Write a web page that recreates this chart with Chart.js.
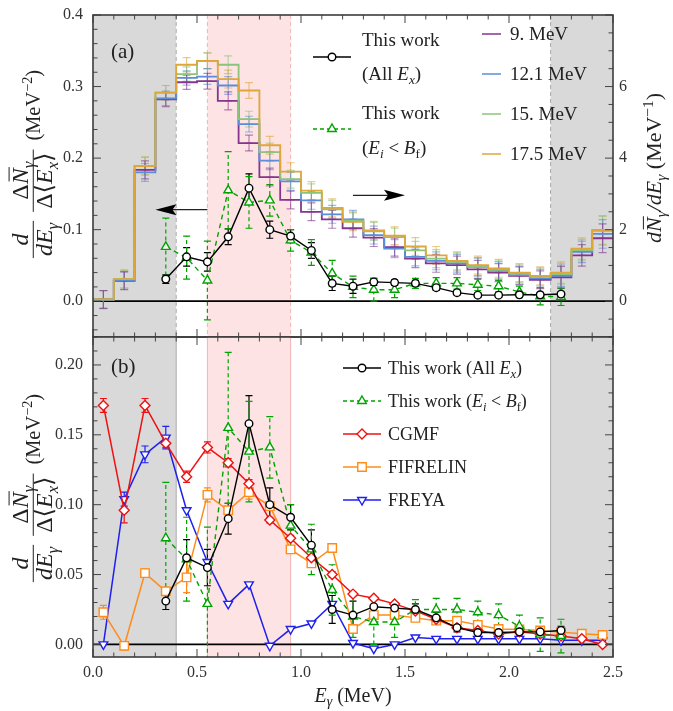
<!DOCTYPE html>
<html lang="en">
<head>
<meta charset="UTF-8">
<title>Gamma spectra</title>
<script src="https://cdn.jsdelivr.net/npm/chart.js"></script>
<style>
  body { margin: 0; background: #fff; }
  #wrap { position: relative; width: 673px; height: 711px; }
  canvas { position: absolute; left: 0; }
  #top { top: 0; }
  #bot { top: 334px; }
</style>
</head>
<body>
<div id="wrap">
  <canvas id="top" width="673" height="340"></canvas>
  <canvas id="bot" width="673" height="377"></canvas>
</div>
<script>
// ---- data ----
const binEdges = [0, 0.1, 0.2, 0.3, 0.4, 0.5, 0.6, 0.7, 0.8, 0.9, 1.0, 1.1, 1.2, 1.3, 1.4, 1.5, 1.6, 1.7, 1.8, 1.9, 2.0, 2.1, 2.2, 2.3, 2.4, 2.5];
const binCenters = [0.05, 0.15, 0.25, 0.35, 0.45, 0.55, 0.65, 0.75, 0.85, 0.95, 1.05, 1.15, 1.25, 1.35, 1.45, 1.55, 1.65, 1.75, 1.85, 1.95, 2.05, 2.15, 2.25, 2.35, 2.45];

// dN/dE (MeV^-1), right axis of panel (a)
const hist9   = [0.05, 0.57, 3.67, 5.64, 6.12, 6.15, 5.60, 4.42, 3.47, 2.83, 2.50, 2.29, 2.04, 1.78, 1.51, 1.19, 1.06, 1.01, 0.89, 0.80, 0.71, 0.60, 0.67, 1.28, 1.76];
const hist121 = [0.04, 0.58, 3.60, 5.67, 6.24, 6.28, 6.03, 4.95, 3.93, 3.35, 2.82, 2.43, 2.29, 1.85, 1.47, 1.24, 1.13, 1.06, 0.96, 0.85, 0.73, 0.64, 0.71, 1.38, 1.88];
const hist15  = [0.05, 0.62, 3.78, 5.83, 6.35, 6.72, 6.61, 5.09, 4.17, 3.41, 3.03, 2.57, 2.25, 1.95, 1.79, 1.42, 1.19, 1.10, 0.96, 0.88, 0.77, 0.68, 0.76, 1.43, 1.97];
const hist175 = [0.05, 0.62, 3.78, 5.83, 6.61, 6.72, 6.21, 5.89, 4.36, 3.62, 3.09, 2.61, 2.22, 1.98, 1.83, 1.53, 1.28, 1.13, 1.01, 0.92, 0.80, 0.71, 0.80, 1.47, 1.99];
const histErr = [0.25, 0.25, 0.25, 0.2, 0.2, 0.22, 0.25, 0.22, 0.25, 0.25, 0.25, 0.25, 0.25, 0.25, 0.25, 0.25, 0.25, 0.25, 0.25, 0.25, 0.25, 0.25, 0.3, 0.3, 0.4];

// this work, d dN / dE dEx (MeV^-2)
const expE = [0.35, 0.45, 0.55, 0.65, 0.75, 0.85, 0.95, 1.05, 1.15, 1.25, 1.35, 1.45, 1.55, 1.65, 1.75, 1.85, 1.95, 2.05, 2.15, 2.25];
const allEx      = [0.031, 0.062, 0.055, 0.090, 0.158, 0.100, 0.091, 0.071, 0.025, 0.021, 0.027, 0.026, 0.025, 0.019, 0.012, 0.0085, 0.0085, 0.009, 0.009, 0.010];
const allExErr   = [0.006, 0.013, 0.013, 0.011, 0.020, 0.012, 0.009, 0.011, 0.010, 0.010, 0.005, 0.004, 0.004, 0.004, 0.003, 0.003, 0.003, 0.003, 0.003, 0.003];
const belowBf    = [0.076, 0.061, 0.029, 0.155, 0.138, 0.141, 0.085, 0.068, 0.039, 0.020, 0.016, 0.016, 0.025, 0.025, 0.025, 0.023, 0.021, 0.013, 0.007, 0.006];
const belowBfErr = [0.040, 0.030, 0.055, 0.054, 0.036, 0.022, 0.015, 0.018, 0.018, 0.015, 0.016, 0.011, 0.007, 0.008, 0.008, 0.008, 0.008, 0.008, 0.012, 0.012];

// models
const cgmf        = [0.171, 0.096, 0.171, 0.144, 0.120, 0.141, 0.130, 0.115, 0.089, 0.076, 0.062, 0.050, 0.036, 0.033, 0.029, 0.024, 0.018, 0.012, 0.010, 0.0075, 0.009, 0.0075, 0.006, 0.004, 0.000];
const cgmfErr     = [0.005, 0.009, 0.005, 0.003, 0.004, 0.004, 0.003, 0.003, 0.002, 0.002, 0.002, 0.002, 0.0015, 0.001, 0.001, 0.001, 0.001, 0.001, 0.001, 0.001, 0.001, 0.001, 0.001, 0.001, 0.001];
const fifrelin    = [0.023, -0.001, 0.051, 0.038, 0.048, 0.107, 0.096, 0.109, 0.099, 0.068, 0.058, 0.069, 0.011, 0.021, 0.021, 0.019, 0.017, 0.017, 0.014, 0.011, 0.0107, 0.010, 0.0088, 0.0076, 0.0067];
const fifrelinErr = [0.005, 0.003, 0.003, 0.003, 0.011, 0.005, 0.002, 0.005, 0.003, 0.002, 0.002, 0.002, 0.002, 0.001, 0.001, 0.001, 0.001, 0.001, 0.001, 0.001, 0.001, 0.001, 0.001, 0.001, 0.001];
const freya       = [0.000, 0.104, 0.136, 0.148, 0.096, 0.059, 0.029, 0.043, -0.001, 0.011, 0.015, 0.029, 0.001, -0.003, 0.000, 0.005, 0.004, 0.004, 0.004, 0.004, 0.004, 0.004, 0.003, 0.003, 0.003];
const freyaErr    = [0, 0.005, 0.006, 0.008, 0, 0, 0, 0, 0, 0, 0, 0, 0, 0, 0, 0, 0, 0, 0, 0, 0, 0, 0, 0, 0];

// ticks and bands
const xTicks = [0, 0.5, 1.0, 1.5, 2.0, 2.5];
const topLeftTicks = [0, 0.1, 0.2, 0.3, 0.4];
const topRightTicks = [0, 2, 4, 6];
const botLeftTicks = [0, 0.05, 0.10, 0.15, 0.20];
const grayBands = [[0, 0.4], [2.2, 2.5]];
const pinkBand = [0.55, 0.95];

const SERIF = '"Liberation Serif", "DejaVu Serif", serif';
const COL = {
  purple: '#86358f', blue: '#5b8ed6', green: '#8cc47c', gold: '#dfa63a',
  exp: '#00a400', cgmf: '#ee1111', fif: '#ff8c1a', freya: '#1f1ff0'
};

function font(sz, it) { return (it ? 'italic ' : '') + sz + 'px ' + SERIF; }

// rich text: runs of {t, i (italic), sub, sup, over (overline)}
function richWidth(ctx, runs, sz) {
  let w = 0;
  runs.forEach(r => {
    ctx.font = font((r.sub || r.sup) ? sz * 0.7 : sz, r.i);
    w += ctx.measureText(r.t).width;
  });
  return w;
}
function drawRich(ctx, runs, x, y, sz, align) {
  const w = richWidth(ctx, runs, sz);
  let cx = align === 'center' ? x - w / 2 : align === 'right' ? x - w : x;
  ctx.textAlign = 'left';
  ctx.textBaseline = 'alphabetic';
  runs.forEach(r => {
    const s = (r.sub || r.sup) ? sz * 0.7 : sz;
    ctx.font = font(s, r.i);
    const yy = y + (r.sub ? sz * 0.22 : r.sup ? -sz * 0.38 : 0);
    ctx.fillText(r.t, cx, yy);
    const pw = ctx.measureText(r.t).width;
    if (r.over) {
      ctx.beginPath();
      ctx.lineWidth = 1;
      ctx.moveTo(cx + s * 0.12, yy - s * 0.8);
      ctx.lineTo(cx + pw + s * 0.05, yy - s * 0.8);
      ctx.stroke();
    }
    cx += pw;
  });
  return w;
}

function marker(ctx, style, x, y, r, color, rot) {
  ctx.save();
  ctx.translate(x, y);
  if (rot) ctx.rotate(rot * Math.PI / 180);
  ctx.beginPath();
  if (style === 'circle') {
    ctx.arc(0, 0, r, 0, 2 * Math.PI);
  } else if (style === 'triangle') {
    for (let k = 0; k < 3; k++) {
      const a = k * 2 * Math.PI / 3;
      ctx.lineTo(r * Math.sin(a), -r * Math.cos(a));
    }
    ctx.closePath();
  } else if (style === 'rectRot') {
    ctx.moveTo(0, -r); ctx.lineTo(r, 0); ctx.lineTo(0, r); ctx.lineTo(-r, 0); ctx.closePath();
  } else {
    const s = r * Math.SQRT1_2;
    ctx.rect(-s, -s, 2 * s, 2 * s);
  }
  ctx.setLineDash([]);
  ctx.fillStyle = '#fff';
  ctx.fill();
  ctx.strokeStyle = color;
  ctx.lineWidth = 1.4;
  ctx.stroke();
  ctx.restore();
}

function legendRow(ctx, x1, x2, y, color, dash, style, r, rot) {
  ctx.save();
  ctx.strokeStyle = color;
  ctx.lineWidth = 1.5;
  ctx.setLineDash(dash || []);
  ctx.beginPath(); ctx.moveTo(x1, y); ctx.lineTo(x2, y); ctx.stroke();
  ctx.restore();
  if (style) marker(ctx, style, (x1 + x2) / 2, y, r, color, rot);
}

function arrow(ctx, x1, x2, y) {
  const dir = Math.sign(x2 - x1);
  ctx.save();
  ctx.strokeStyle = '#222';
  ctx.fillStyle = '#000';
  ctx.lineWidth = 1.2;
  ctx.beginPath(); ctx.moveTo(x1, y); ctx.lineTo(x2 - dir * 14, y); ctx.stroke();
  ctx.beginPath();
  ctx.moveTo(x2, y);
  ctx.lineTo(x2 - dir * 21, y - 5.5);
  ctx.lineTo(x2 - dir * 17, y);
  ctx.lineTo(x2 - dir * 21, y + 5.5);
  ctx.closePath();
  ctx.fill();
  ctx.restore();
}

function drawErrBars(chart) {
  const { ctx, chartArea: a, scales } = chart;
  ctx.save();
  ctx.beginPath();
  ctx.rect(a.left, a.top, a.right - a.left, a.bottom - a.top);
  ctx.clip();
  chart.data.datasets.forEach(ds => {
    const eb = ds.eb;
    if (!eb) return;
    const ys = scales[ds.yAxisID || 'y'];
    ctx.strokeStyle = eb.color;
    ctx.globalAlpha = eb.alpha || 1;
    ctx.lineWidth = 1.2;
    eb.x.forEach((xv, i) => {
      const e = eb.e[i];
      if (!e) return;
      const px = scales.x.getPixelForValue(xv);
      const p1 = ys.getPixelForValue(eb.y[i] - e);
      const p2 = ys.getPixelForValue(eb.y[i] + e);
      ctx.setLineDash(eb.dash || []);
      ctx.beginPath(); ctx.moveTo(px, p1); ctx.lineTo(px, p2); ctx.stroke();
      ctx.setLineDash([]);
      ctx.beginPath();
      ctx.moveTo(px - eb.cap, p1); ctx.lineTo(px + eb.cap, p1);
      ctx.moveTo(px - eb.cap, p2); ctx.lineTo(px + eb.cap, p2);
      if (eb.mid) {
        const pm = ys.getPixelForValue(eb.y[i]);
        ctx.moveTo(px - eb.cap, pm); ctx.lineTo(px + eb.cap, pm);
      }
      ctx.stroke();
    });
  });
  ctx.restore();
}

function drawBands(chart, solidEdges) {
  const { ctx, chartArea: a, scales } = chart;
  const xs = scales.x;
  ctx.save();
  ctx.fillStyle = '#d9d9d9';
  grayBands.forEach(([l, r]) => {
    const x1 = xs.getPixelForValue(l), x2 = xs.getPixelForValue(r);
    ctx.fillRect(x1, a.top, x2 - x1, a.bottom - a.top);
  });
  const p1 = xs.getPixelForValue(pinkBand[0]), p2 = xs.getPixelForValue(pinkBand[1]);
  ctx.fillStyle = '#fde3e3';
  ctx.fillRect(p1, a.top, p2 - p1, a.bottom - a.top);
  ctx.lineWidth = 1;
  ctx.setLineDash(solidEdges ? [] : [4, 3]);
  ctx.strokeStyle = '#ababab';
  [grayBands[0][1], grayBands[1][0]].forEach(v => {
    const px = xs.getPixelForValue(v);
    ctx.beginPath(); ctx.moveTo(px, a.top); ctx.lineTo(px, a.bottom); ctx.stroke();
  });
  ctx.strokeStyle = '#f3b5b5';
  [p1, p2].forEach(px => {
    ctx.beginPath(); ctx.moveTo(px, a.top); ctx.lineTo(px, a.bottom); ctx.stroke();
  });
  ctx.setLineDash([]);
  const y0 = scales.y.getPixelForValue(0);
  ctx.strokeStyle = '#000';
  ctx.lineWidth = 1.7;
  ctx.beginPath(); ctx.moveTo(a.left, y0); ctx.lineTo(a.right, y0); ctx.stroke();
  ctx.restore();
}

function tickRun(from, to, step) {
  const out = [];
  const n = Math.round((to - from) / step);
  for (let k = 0; k <= n; k++) out.push(from + k * step);
  return out;
}

function drawFrame(chart, rightScaleId, rightMinor, rightMajor) {
  const { ctx, chartArea: a, scales } = chart;
  const xs = scales.x, ys = scales.y;
  const near = (v, s) => Math.abs(v / s - Math.round(v / s)) < 1e-6;
  ctx.save();
  ctx.strokeStyle = '#444';
  ctx.lineWidth = 1;
  ctx.beginPath();
  tickRun(0, 2.5, 0.1).forEach(v => {
    const px = xs.getPixelForValue(v);
    const len = near(v, 0.5) ? 8 : 4.5;
    ctx.moveTo(px, a.top); ctx.lineTo(px, a.top + len);
    ctx.moveTo(px, a.bottom); ctx.lineTo(px, a.bottom - len);
  });
  const ly = ys.options.minorStep, lM = ys.options.majorStep;
  tickRun(Math.ceil(ys.min / ly) * ly, ys.max, ly).forEach(v => {
    const py = ys.getPixelForValue(v);
    const len = near(v, lM) ? 8 : 4.5;
    ctx.moveTo(a.left, py); ctx.lineTo(a.left + len, py);
    if (!rightScaleId) { ctx.moveTo(a.right, py); ctx.lineTo(a.right - len, py); }
  });
  if (rightScaleId) {
    const rs = scales[rightScaleId];
    tickRun(Math.ceil(rs.min / rightMinor) * rightMinor, rs.max, rightMinor).forEach(v => {
      const py = rs.getPixelForValue(v);
      const len = near(v, rightMajor) ? 8 : 4.5;
      ctx.moveTo(a.right, py); ctx.lineTo(a.right - len, py);
    });
  }
  ctx.stroke();
  ctx.strokeStyle = '#3c3c3c';
  ctx.lineWidth = 1.6;
  ctx.strokeRect(a.left, a.top, a.right - a.left, a.bottom - a.top);
  ctx.restore();
}

function leftTitle(ctx, cx, cy, sz) {
  const num1 = [{ t: 'd', i: 1 }];
  const den1 = [{ t: 'dE', i: 1 }, { t: 'γ', i: 1, sub: 1 }];
  const num2 = [{ t: 'Δ' }, { t: 'N', i: 1, over: 1 }, { t: 'γ', i: 1, sub: 1 }];
  const den2 = [{ t: 'Δ⟨' }, { t: 'E', i: 1 }, { t: 'x', i: 1, sub: 1 }, { t: '⟩' }];
  const unit = [{ t: '(MeV' }, { t: '−2', sup: 1 }, { t: ')' }];
  const usz = sz * 0.85;
  ctx.save();
  ctx.translate(cx, cy);
  ctx.rotate(-Math.PI / 2);
  ctx.fillStyle = '#222';
  ctx.strokeStyle = '#222';
  const f1 = Math.max(richWidth(ctx, num1, sz), richWidth(ctx, den1, sz)) + 4;
  const f2 = Math.max(richWidth(ctx, num2, sz), richWidth(ctx, den2, sz)) + 6;
  const wu = richWidth(ctx, unit, usz);
  const gap = 9;
  const total = f1 + gap + f2 + gap + wu;
  let x = -total / 2;
  const axis = -sz * 0.28;
  [[num1, den1, f1], [num2, den2, f2]].forEach(([n, d, w]) => {
    drawRich(ctx, n, x + w / 2, axis - 5, sz, 'center');
    drawRich(ctx, d, x + w / 2, axis + sz * 0.8, sz, 'center');
    ctx.beginPath();
    ctx.lineWidth = 1;
    ctx.moveTo(x, axis); ctx.lineTo(x + w, axis); ctx.stroke();
    x += w + gap;
  });
  drawRich(ctx, unit, x, axis + usz * 0.33, usz, 'left');
  ctx.restore();
}

function yAxis(min, max, ticks, fmt, pos, width, pad, minorStep, majorStep) {
  return {
    type: 'linear', position: pos, min: min, max: max,
    minorStep: minorStep, majorStep: majorStep,
    grid: { display: false, drawTicks: false },
    border: { display: false },
    afterBuildTicks: s => { s.ticks = ticks.map(v => ({ value: v })); },
    afterFit: s => { s.width = width; s.paddingTop = 0; s.paddingBottom = 0; },
    ticks: { autoSkip: false, callback: fmt, padding: pad, color: '#333', font: { family: SERIF, size: 16 } }
  };
}

function pts(xv, yv) { return xv.map((x, i) => ({ x: x, y: yv[i] })); }
function steps(vals) { return binEdges.map((x, i) => ({ x: x, y: vals[Math.min(i, vals.length - 1)] })); }

function expSets() {
  return [
    {
      label: 'This work (All Ex)', data: pts(expE, allEx), yAxisID: 'y',
      borderColor: '#000', borderWidth: 1.4, pointStyle: 'circle', pointRadius: 3.8,
      pointBorderColor: '#000', pointBackgroundColor: '#fff', pointBorderWidth: 1.4,
      eb: { x: expE, y: allEx, e: allExErr, color: '#000', cap: 3.5 }
    },
    {
      label: 'This work (Ei < Bf)', data: pts(expE, belowBf), yAxisID: 'y',
      borderColor: COL.exp, borderWidth: 1.4, borderDash: [5, 4], pointStyle: 'triangle', pointRadius: 5,
      pointBorderColor: COL.exp, pointBackgroundColor: '#fff', pointBorderWidth: 1.4,
      eb: { x: expE, y: belowBf, e: belowBfErr, color: COL.exp, cap: 3.5, dash: [4, 3] }
    }
  ];
}

function histSet(label, vals, color) {
  return {
    label: label, data: steps(vals), yAxisID: 'y2', stepped: true,
    borderColor: color, borderWidth: 1.8, pointRadius: 0,
    eb: { x: binCenters, y: vals, e: histErr, color: color, cap: 4, mid: true, alpha: 0.6 }
  };
}

// ---------- panel (a) ----------
const topPlugin = {
  id: 'panelA',
  beforeDatasetsDraw(chart) { drawBands(chart, false); drawErrBars(chart); },
  afterDraw(chart) {
    const { ctx, scales } = chart;
    drawFrame(chart, 'y2', 0.5, 2);
    ctx.save();
    ctx.fillStyle = '#222';
    ctx.strokeStyle = '#222';
    drawRich(ctx, [{ t: '(a)' }], 111, 58, 21, 'left');
    legendRow(ctx, 313, 351, 57, '#000', [], 'circle', 3.8);
    drawRich(ctx, [{ t: 'This work' }], 362, 46, 19, 'left');
    drawRich(ctx, [{ t: '(All ' }, { t: 'E', i: 1 }, { t: 'x', i: 1, sub: 1 }, { t: ')' }], 362, 80, 19, 'left');
    legendRow(ctx, 313, 351, 129, COL.exp, [4, 3], 'triangle', 5);
    drawRich(ctx, [{ t: 'This work' }], 362, 119, 19, 'left');
    drawRich(ctx, [{ t: '(' }, { t: 'E', i: 1 }, { t: 'i', i: 1, sub: 1 }, { t: ' < ' }, { t: 'B', i: 1 }, { t: 'f', sub: 1 }, { t: ')' }], 362, 154, 19, 'left');
    [[COL.purple, '9. MeV', 34], [COL.blue, '12.1 MeV', 74], [COL.green, '15. MeV', 114], [COL.gold, '17.5 MeV', 154]].forEach(([c, t, y]) => {
      legendRow(ctx, 482, 501, y, c, [], null);
      ctx.fillStyle = '#222';
      drawRich(ctx, [{ t: t }], 510, y + 6, 19, 'left');
    });
    // arrows pointing to the axes
    const xs = scales.x, ys = scales.y;
    arrow(ctx, xs.getPixelForValue(0.55), xs.getPixelForValue(0.30), ys.getPixelForValue(0.128));
    arrow(ctx, xs.getPixelForValue(1.25), xs.getPixelForValue(1.50), ys.getPixelForValue(0.148));
    ctx.fillStyle = '#222';
    leftTitle(ctx, 40, 164, 24);
    // right axis title
    ctx.translate(653, 168);
    ctx.rotate(-Math.PI / 2);
    drawRich(ctx, [{ t: 'd', i: 1 }, { t: 'N', i: 1, over: 1 }, { t: 'γ', i: 1, sub: 1 }, { t: '/', i: 1 }, { t: 'dE', i: 1 }, { t: 'γ', i: 1, sub: 1 }, { t: ' (MeV' }, { t: '−1', sup: 1 }, { t: ')' }], 0, 8, 22, 'center');
    ctx.restore();
  }
};

new Chart(document.getElementById('top'), {
  type: 'line',
  data: {
    datasets: [
      ...expSets(),
      histSet('17.5 MeV', hist175, COL.gold),
      histSet('15. MeV', hist15, COL.green),
      histSet('12.1 MeV', hist121, COL.blue),
      histSet('9. MeV', hist9, COL.purple)
    ]
  },
  options: {
    responsive: false, animation: false, events: [],
    layout: { autoPadding: false, padding: { top: 15, bottom: 3, left: 0, right: 0 } },
    plugins: { legend: { display: false }, tooltip: { enabled: false } },
    scales: {
      x: { type: 'linear', min: 0, max: 2.5, display: false },
      y: yAxis(-0.05, 0.4, topLeftTicks, v => v.toFixed(1), 'left', 93, 10, 0.02, 0.1),
      y2: yAxis(-1, 8, topRightTicks, v => String(v), 'right', 60, 6, 0.5, 2)
    }
  },
  plugins: [topPlugin]
});

// ---------- panel (b) ----------
const botPlugin = {
  id: 'panelB',
  beforeDatasetsDraw(chart) { drawBands(chart, true); drawErrBars(chart); },
  afterDraw(chart) {
    const { ctx } = chart;
    drawFrame(chart, null);
    ctx.save();
    ctx.fillStyle = '#222';
    ctx.strokeStyle = '#222';
    drawRich(ctx, [{ t: '(b)' }], 111, 39, 21, 'left');
    const rows = [
      ['#000', [], 'circle', 3.8, 0, [{ t: 'This work (All ' }, { t: 'E', i: 1 }, { t: 'x', i: 1, sub: 1 }, { t: ')' }]],
      [COL.exp, [4, 3], 'triangle', 5, 0, [{ t: 'This work (' }, { t: 'E', i: 1 }, { t: 'i', i: 1, sub: 1 }, { t: ' < ' }, { t: 'B', i: 1 }, { t: 'f', sub: 1 }, { t: ')' }]],
      [COL.cgmf, [], 'rectRot', 5, 0, [{ t: 'CGMF' }]],
      [COL.fif, [], 'rect', 6, 0, [{ t: 'FIFRELIN' }]],
      [COL.freya, [], 'triangle', 5, 180, [{ t: 'FREYA' }]]
    ];
    rows.forEach((r, k) => {
      const y = 34 + k * 33;
      legendRow(ctx, 343, 381, y, r[0], r[1], r[2], r[3], r[4]);
      ctx.fillStyle = '#222';
      drawRich(ctx, r[5], 388, y + 6, 18, 'left');
    });
    leftTitle(ctx, 40, 154, 24);
    drawRich(ctx, [{ t: 'E', i: 1 }, { t: 'γ', i: 1, sub: 1 }, { t: ' (MeV)' }], 353, 368, 20, 'center');
    ctx.restore();
  }
};

new Chart(document.getElementById('bot'), {
  type: 'line',
  data: {
    datasets: [
      ...expSets(),
      {
        label: 'CGMF', data: pts(binCenters, cgmf), yAxisID: 'y',
        borderColor: COL.cgmf, borderWidth: 1.5, pointStyle: 'rectRot', pointRadius: 5,
        pointBorderColor: COL.cgmf, pointBackgroundColor: '#fff', pointBorderWidth: 1.4,
        eb: { x: binCenters, y: cgmf, e: cgmfErr, color: COL.cgmf, cap: 3.5 }
      },
      {
        label: 'FIFRELIN', data: pts(binCenters, fifrelin), yAxisID: 'y',
        borderColor: COL.fif, borderWidth: 1.5, pointStyle: 'rect', pointRadius: 6,
        pointBorderColor: COL.fif, pointBackgroundColor: '#fff', pointBorderWidth: 1.4,
        eb: { x: binCenters, y: fifrelin, e: fifrelinErr, color: COL.fif, cap: 3.5 }
      },
      {
        label: 'FREYA', data: pts(binCenters, freya), yAxisID: 'y',
        borderColor: COL.freya, borderWidth: 1.5, pointStyle: 'triangle', pointRotation: 180, pointRadius: 5,
        pointBorderColor: COL.freya, pointBackgroundColor: '#fff', pointBorderWidth: 1.4,
        eb: { x: binCenters, y: freya, e: freyaErr, color: COL.freya, cap: 3.5 }
      }
    ]
  },
  options: {
    responsive: false, animation: false, events: [],
    layout: { autoPadding: false, padding: { top: 3, bottom: 0, left: 0, right: 60 } },
    plugins: { legend: { display: false }, tooltip: { enabled: false } },
    scales: {
      x: {
        type: 'linear', min: 0, max: 2.5, position: 'bottom',
        grid: { display: false, drawTicks: false }, border: { display: false },
        afterBuildTicks: s => { s.ticks = xTicks.map(v => ({ value: v })); },
        afterFit: s => { s.height = 54; s.paddingLeft = 0; s.paddingRight = 0; },
        ticks: { autoSkip: false, maxRotation: 0, padding: 6, callback: v => v.toFixed(1), color: '#333', font: { family: SERIF, size: 16 } }
      },
      y: yAxis(-0.009, 0.22, botLeftTicks, v => v.toFixed(2), 'left', 93, 10, 0.01, 0.05)
    }
  },
  plugins: [botPlugin]
});
</script>
</body>
</html>
